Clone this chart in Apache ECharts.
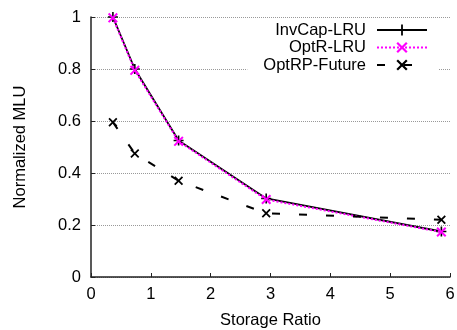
<!DOCTYPE html>
<html>
<head>
<meta charset="utf-8">
<script src="https://cdn.jsdelivr.net/npm/echarts@6/dist/echarts.min.js"></script>
<style>
  html, body { margin: 0; padding: 0; background: #fff; }
  #chart { width: 457px; height: 330px; }
</style>
</head>
<body>
<div id="chart"></div>
<script>
// storage ratio (x) and normalized MLU (y)
const storageRatio = [0.366, 0.732, 1.464, 2.928, 5.856];
const invCapLru = [1.0, 0.80, 0.525, 0.302, 0.175];
const optRLru = [0.997, 0.795, 0.522, 0.298, 0.173];
const optRPFuture = [0.595, 0.475, 0.37, 0.245, 0.22];
const seriesNames = ['InvCap-LRU', 'OptR-LRU', 'OptRP-Future'];

const font = 'Liberation Sans, Arial, sans-serif';
const fontSize = 16.5;
const crossPath = 'path://M0,1.4L1.4,0L5,3.6L8.6,0L10,1.4L6.4,5L10,8.6L8.6,10L5,6.4L1.4,10L0,8.6L3.6,5Z';
const plusPath = 'path://M4.2,0H5.8V4.2H10V5.8H5.8V10H4.2V5.8H0V4.2H4.2Z';

function pairs(ys) {
    return storageRatio.map(function (x, i) { return [x, ys[i]]; });
}

const chart = echarts.init(document.getElementById('chart'), null, {renderer: 'canvas'});

// one legend per row so every row lines up on the right
const legendTops = [21.5, 39, 56.5];
const legends = seriesNames.map(function (name, i) {
    return {
        data: [name],
        orient: 'vertical',
        right: 19,
        top: legendTops[i],
        align: 'right',
        itemWidth: 50,
        itemHeight: 14,
        padding: [0, 10, 0, 16],
        backgroundColor: '#fff',
        textStyle: {fontFamily: font, fontSize: fontSize, color: '#000', padding: [0, 6, 0, 0]}
    };
});

const option = {
    animation: false,
    backgroundColor: '#fff',
    grid: {left: 91, right: 7, top: 17, bottom: 53, outerBoundsMode: 'none', containLabel: false},
    legend: legends,
    xAxis: {
        type: 'value',
        min: 0,
        max: 6,
        interval: 1,
        name: 'Storage Ratio',
        nameLocation: 'middle',
        nameGap: 35,
        nameTextStyle: {fontFamily: font, fontSize: fontSize, color: '#000'},
        axisLine: {lineStyle: {color: '#222', width: 1.5}},
        axisTick: {inside: true, length: 4, lineStyle: {color: '#222'}},
        axisLabel: {fontFamily: font, fontSize: fontSize, color: '#000', margin: 9},
        splitLine: {show: false}
    },
    yAxis: {
        type: 'value',
        min: 0,
        max: 1,
        interval: 0.2,
        name: 'Normalized MLU',
        nameLocation: 'middle',
        nameGap: 62,
        nameTextStyle: {fontFamily: font, fontSize: fontSize, color: '#000'},
        axisLine: {show: true, lineStyle: {color: '#222', width: 1.5}},
        axisTick: {show: true, inside: true, length: 4, lineStyle: {color: '#222'}},
        axisLabel: {fontFamily: font, fontSize: fontSize, color: '#000', margin: 10},
        splitLine: {show: true, lineStyle: {color: '#999', type: [1, 1], width: 1}}
    },
    series: [
        {
            name: seriesNames[0],
            type: 'line',
            data: pairs(invCapLru),
            symbol: plusPath,
            symbolSize: 10,
            lineStyle: {color: '#000', width: 1.8},
            itemStyle: {color: '#000'},
            z: 2
        },
        {
            name: seriesNames[1],
            type: 'line',
            data: pairs(optRLru),
            symbol: crossPath,
            symbolSize: 10,
            lineStyle: {color: '#ff00ff', width: 2, type: [2, 2]},
            itemStyle: {color: '#ff00ff'},
            z: 3
        },
        {
            name: seriesNames[2],
            type: 'line',
            data: pairs(optRPFuture),
            symbol: crossPath,
            symbolSize: 9,
            lineStyle: {color: '#000', width: 2, type: [8, 19]},
            itemStyle: {color: '#000'},
            z: 4
        }
    ]
};

chart.setOption(option);
</script>
</body>
</html>
